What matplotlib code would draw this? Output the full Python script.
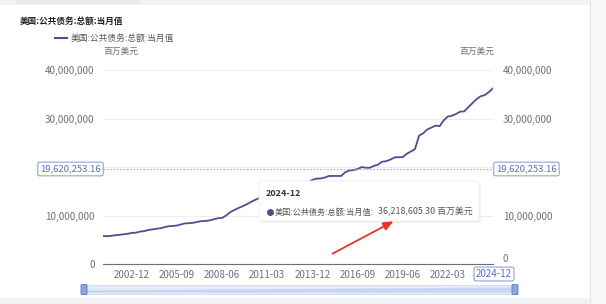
import matplotlib
matplotlib.use('agg')
import matplotlib.pyplot as plt
from matplotlib.patches import FancyBboxPatch, Rectangle
import numpy as np
import pandas as pd

plt.rcParams['font.family'] = ['Noto Sans CJK SC', 'DejaVu Sans']

# quarterly readings, millions of US$
start = '2001-03'
debt = [5770000, 5730000, 5810000, 5940000,
        6010000, 6130000, 6230000, 6410000,
        6460000, 6670000, 6780000, 7000000,
        7130000, 7270000, 7380000, 7600000,
        7780000, 7840000, 7930000, 8170000,
        8370000, 8420000, 8510000, 8680000,
        8850000, 8870000, 9010000, 9230000,
        9440000, 9490000, 10020000, 10700000,
        11130000, 11550000, 11910000, 12310000,
        12770000, 13200000, 13560000, 14030000,
        14270000, 14340000, 14790000, 15220000,
        15580000, 15860000, 16070000, 16430000,
        16770000, 16740000, 16740000, 17350000,
        17600000, 17630000, 17820000, 18140000,
        18150000, 18150000, 18150000, 18920000,
        19260000, 19380000, 19570000, 19980000,
        19850000, 19840000, 20240000, 20490000,
        21090000, 21200000, 21520000, 21970000,
        22030000, 22020000, 22720000, 23200000,
        23690000, 26480000, 26950000, 27750000,
        28130000, 28530000, 28430000, 29620000,
        30400000, 30570000, 30930000, 31420000,
        31460000, 32330000, 33170000, 34000000,
        34590000, 34830000, 35460000, 36218605.30]
tick_labels = ['2002-12', '2005-09', '2008-06', '2011-03', '2013-12',
               '2016-09', '2019-06', '2022-03', '2024-12']
y_ticks = [0, 10000000, 20000000, 30000000, 40000000]
cross_val = 19620253.16
series_name = '美国:公共债务:总额:当月值'
unit = '百万美元'

dates = pd.period_range(start, periods=len(debt), freq='Q').to_timestamp(how='end').normalize()
dates = pd.to_datetime([d.strftime('%Y-%m') for d in dates])
ticks = pd.to_datetime(tick_labels)

line_col = '#4b5190'
txt_col = '#6e7079'
blue = '#5470c6'

fig = plt.figure(figsize=(6.06, 3.04), dpi=100)
W, H = 606, 304

# 20,000,000 label is hidden behind the crosshair label
ylabs = ['{:,}'.format(v) if v != 20000000 else '' for v in y_ticks]

ax = fig.add_axes([103 / W, 1 - 264 / H, (493 - 103) / W, (264 - 70) / H])
ax.plot(dates, debt, color=line_col, lw=1.3)
ax.set_xlim(dates[0], dates[-1])
ax.set_ylim(0, 40000000)
ax.set_yticks(y_ticks)
ax.set_yticklabels(ylabs)
ax.set_xticks(ticks)
ax.set_xticklabels(tick_labels[:-1] + [''])
ax.grid(axis='y', color='#eeeeee', lw=0.8)
ax.grid(axis='x', visible=False)
for s in ['top', 'right', 'left']:
    ax.spines[s].set_visible(False)
ax.spines['bottom'].set_color('#6e7079')
ax.spines['bottom'].set_linewidth(0.8)
ax.tick_params(axis='both', length=0, labelsize=7, colors=txt_col)
ax.tick_params(axis='x', pad=4)
ax.tick_params(axis='y', pad=6)

ax2 = ax.twinx()
ax2.set_ylim(0, 40000000)
ax2.set_yticks(y_ticks)
ax2.set_yticklabels(ylabs)
ax2.tick_params(axis='y', length=0, labelsize=7, colors=txt_col, pad=7)
for s in ax2.spines.values():
    s.set_visible(False)
# the right "0" sits just above the x crosshair label
ax2.get_yticklabels()[0].set_verticalalignment('bottom')

# crosshair
ax.axhline(cross_val, color='#a8afd0', lw=0.8, ls=(0, (1.5, 1.5)))
ax.axvline(dates[-1], color='#a8afd0', lw=0.8, ls=(0, (1.5, 1.5)))

# overlay in pixel coords
ov = fig.add_axes([0, 0, 1, 1])
ov.set_xlim(0, W)
ov.set_ylim(H, 0)
ov.axis('off')
ov.set_zorder(5)

# page frame
ov.add_patch(Rectangle((0, 0), W, 5, color='#f2f3f7', lw=0))
ov.add_patch(FancyBboxPatch((15, -3), 125, 7, boxstyle='round,pad=0,rounding_size=3',
                            fc='#e9eaef', ec='none'))
ov.add_patch(Rectangle((0, 298), W, 6, color='#f2f3f7', lw=0))
ov.add_patch(Rectangle((590, 0), 16, H, color='#f7f7f9', lw=0))
ov.plot([590, 590], [0, H], color='#e4e5ea', lw=0.8)

ov.text(20, 21, series_name, fontsize=6.2, fontweight='bold', color='#222222', va='center')
ov.plot([55, 67], [38, 38], color=line_col, lw=1.5)
ov.text(71, 38, series_name, fontsize=6.3, color='#555555', va='center')
ov.text(121, 51, unit, fontsize=6.3, color=txt_col, va='center', ha='center')
ov.text(477, 51, unit, fontsize=6.3, color=txt_col, va='center', ha='center')

# crosshair labels
lab = '{:,.2f}'.format(cross_val)
for cx in [70.5, 526.5]:
    ov.text(cx, 169, lab, fontsize=6.8, color=blue, ha='center', va='center',
            bbox=dict(boxstyle='round,pad=0.25,rounding_size=0.2', fc='white', ec='#8a94c4', lw=0.7))
ov.text(494, 274, tick_labels[-1], fontsize=7, color=blue, ha='center', va='center',
        bbox=dict(boxstyle='round,pad=0.2,rounding_size=0.2', fc='white', ec='#8a94c4', lw=0.7))

# tooltip
ov.add_patch(FancyBboxPatch((261, 183), 220, 40, boxstyle='round,pad=0,rounding_size=3',
                            fc='#e9e9ee', ec='none', alpha=0.6))
ov.add_patch(FancyBboxPatch((259, 181), 220, 40, boxstyle='round,pad=0,rounding_size=3',
                            fc='white', ec='#eeeeee', lw=0.6))
ov.text(266, 194, tick_labels[-1], fontsize=6.5, fontweight='bold', color='#333333', va='center')
ov.plot([269.5], [212], 'o', color=line_col, ms=4)
ov.text(274.5, 212, series_name + ':', fontsize=5.9, color='#555555', va='center')
ov.text(378, 212, '{:,.2f}'.format(debt[-1]) + ' ' + unit, fontsize=6.4, color='#555555', va='center')

# red arrow
ov.annotate('', xy=(396, 220), xytext=(330, 255),
            arrowprops=dict(arrowstyle='-|>,head_length=0.6,head_width=0.25', color='#e8322d', lw=1.3))

# data zoom slider
ov.add_patch(Rectangle((84, 285), 431, 9, fc='#e3ebfb', ec='#c5d2ef', lw=0.5))
ov.fill_between([86, 513], [292, 292], [290, 287], color='#c7d5f3', lw=0)
for hx in [84, 515]:
    ov.add_patch(FancyBboxPatch((hx - 3, 284.5), 6, 10, boxstyle='round,pad=0,rounding_size=1',
                                fc='#8da6dc', ec='#5b7bc7', lw=0.6))

fig.savefig('out.png', dpi=100)
